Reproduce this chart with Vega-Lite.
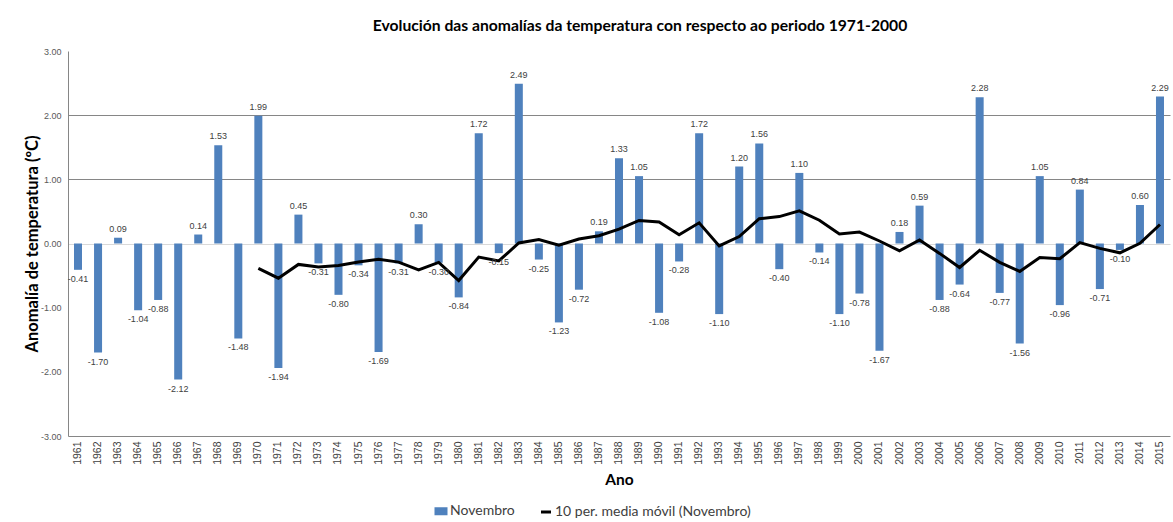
{
  "$schema": "https://vega.github.io/schema/vega-lite/v6.json",
  "autosize": "none",
  "width": 1102,
  "height": 385,
  "padding": {"left": 68, "top": 51, "right": 3, "bottom": 86},
  "background": "white",
  "config": {"font": "Lato", "view": {"stroke": null},
    "locale": {"number": {"decimal": ".", "thousands": ",", "grouping": [3], "currency": ["$", ""], "minus": "-"}}},
  "title": {"text": "Evolución das anomalías da temperatura con respecto ao periodo 1971-2000", "fontSize": 15.7, "font": "Lato", "fontWeight": "bold", "color": "#000000", "offset": 12, "dx": 21},
  "data": {"values": [
    {"year": "1961", "v": -0.41, "ma": null},
    {"year": "1962", "v": -1.70, "ma": null},
    {"year": "1963", "v": 0.09, "ma": null},
    {"year": "1964", "v": -1.04, "ma": null},
    {"year": "1965", "v": -0.88, "ma": null},
    {"year": "1966", "v": -2.12, "ma": null},
    {"year": "1967", "v": 0.14, "ma": null},
    {"year": "1968", "v": 1.53, "ma": null},
    {"year": "1969", "v": -1.48, "ma": null},
    {"year": "1970", "v": 1.99, "ma": -0.388},
    {"year": "1971", "v": -1.94, "ma": -0.541},
    {"year": "1972", "v": 0.45, "ma": -0.326},
    {"year": "1973", "v": -0.31, "ma": -0.366},
    {"year": "1974", "v": -0.80, "ma": -0.342},
    {"year": "1975", "v": -0.34, "ma": -0.288},
    {"year": "1976", "v": -1.69, "ma": -0.245},
    {"year": "1977", "v": -0.31, "ma": -0.290},
    {"year": "1978", "v": 0.30, "ma": -0.413},
    {"year": "1979", "v": -0.30, "ma": -0.295},
    {"year": "1980", "v": -0.84, "ma": -0.578},
    {"year": "1981", "v": 1.72, "ma": -0.212},
    {"year": "1982", "v": -0.15, "ma": -0.272},
    {"year": "1983", "v": 2.49, "ma": 0.008},
    {"year": "1984", "v": -0.25, "ma": 0.063},
    {"year": "1985", "v": -1.23, "ma": -0.026},
    {"year": "1986", "v": -0.72, "ma": 0.071},
    {"year": "1987", "v": 0.19, "ma": 0.121},
    {"year": "1988", "v": 1.33, "ma": 0.224},
    {"year": "1989", "v": 1.05, "ma": 0.359},
    {"year": "1990", "v": -1.08, "ma": 0.335},
    {"year": "1991", "v": -0.28, "ma": 0.135},
    {"year": "1992", "v": 1.72, "ma": 0.322},
    {"year": "1993", "v": -1.10, "ma": -0.037},
    {"year": "1994", "v": 1.20, "ma": 0.108},
    {"year": "1995", "v": 1.56, "ma": 0.387},
    {"year": "1996", "v": -0.40, "ma": 0.419},
    {"year": "1997", "v": 1.10, "ma": 0.510},
    {"year": "1998", "v": -0.14, "ma": 0.363},
    {"year": "1999", "v": -1.10, "ma": 0.148},
    {"year": "2000", "v": -0.78, "ma": 0.178},
    {"year": "2001", "v": -1.67, "ma": 0.039},
    {"year": "2002", "v": 0.18, "ma": -0.115},
    {"year": "2003", "v": 0.59, "ma": 0.054},
    {"year": "2004", "v": -0.88, "ma": -0.154},
    {"year": "2005", "v": -0.64, "ma": -0.374},
    {"year": "2006", "v": 2.28, "ma": -0.106},
    {"year": "2007", "v": -0.77, "ma": -0.293},
    {"year": "2008", "v": -1.56, "ma": -0.435},
    {"year": "2009", "v": 1.05, "ma": -0.220},
    {"year": "2010", "v": -0.96, "ma": -0.238},
    {"year": "2011", "v": 0.84, "ma": 0.013},
    {"year": "2012", "v": -0.71, "ma": -0.076},
    {"year": "2013", "v": -0.10, "ma": -0.145},
    {"year": "2014", "v": 0.60, "ma": 0.003},
    {"year": "2015", "v": 2.29, "ma": 0.296}
  ]},
  "encoding": {
    "x": {"field": "year", "type": "ordinal", "scale": {"paddingInner": 0.6, "paddingOuter": 0.3},
      "axis": {"labelAngle": -90, "labelFontSize": 10.5, "labelColor": "#404040", "labelPadding": 5, "labelFont": "Liberation Sans",
        "domainColor": "#868686", "ticks": false, "title": "Ano", "titleFontSize": 15.5, "titleFontWeight": "bold", "titleColor": "#000000", "titlePadding": 8}}
  },
  "layer": [
    {
      "mark": {"type": "bar", "color": "#4F81BD"},
      "encoding": {
        "y": {"field": "v", "type": "quantitative", "scale": {"domain": [-3, 3], "nice": false},
          "axis": {"values": [-3, -2, -1, 0, 1, 2, 3], "format": ".2f", "labelFontSize": 9, "labelFont": "Liberation Sans", "labelColor": "#595959", "labelPadding": 7, "ticks": false,
            "domainColor": "#868686",
            "grid": true,
            "gridColor": {"condition": {"test": "datum.value === 0", "value": "#d9d9d9"}, "value": "#868686"},
            "gridOpacity": {"condition": {"test": "datum.value < 0 || datum.value > 2", "value": 0}, "value": 1},
            "title": "Anomalía de temperatura (ºC)", "titleFontSize": 16.5, "titleFontWeight": "bold", "titleColor": "#000000", "titlePadding": 0}},
        "color": {"datum": "Novembro", "type": "nominal",
          "scale": {"domain": ["Novembro", "10 per. media móvil (Novembro)"], "range": ["#4F81BD", "#000000"]},
          "legend": {"title": null, "orient": "none", "legendX": 366, "legendY": 453, "direction": "horizontal",
            "labelFontSize": 14, "labelColor": "#404040", "labelOffset": 2, "labelLimit": 0, "columnPadding": 20, "symbolSize": 100,
            "encode": {"symbols": {"update": {
              "shape": {"signal": "datum.value === 'Novembro' ? 'M-1,-0.5H1V0.5H-1Z' : 'M-1,0H1'"},
              "fill": {"signal": "datum.value === 'Novembro' ? '#4F81BD' : 'transparent'"},
              "stroke": {"signal": "datum.value === 'Novembro' ? 'transparent' : '#000000'"},
              "strokeWidth": {"value": 3}}}}}}
      }
    },
    {
      "transform": [{"filter": "datum.ma != null"}],
      "mark": {"type": "line", "strokeWidth": 3, "color": "#000000"},
      "encoding": {
        "y": {"field": "ma", "type": "quantitative"},
        "color": {"datum": "10 per. media móvil (Novembro)", "type": "nominal"}
      }
    },
    {
      "transform": [{"filter": "datum.v >= 0"}],
      "mark": {"type": "text", "baseline": "bottom", "dy": -4, "fontSize": 9, "font": "Liberation Sans", "color": "#404040"},
      "encoding": {
        "y": {"field": "v", "type": "quantitative"},
        "text": {"field": "v", "type": "quantitative", "format": ".2f"}
      }
    },
    {
      "transform": [{"filter": "datum.v < 0"}],
      "mark": {"type": "text", "baseline": "top", "dy": 5, "fontSize": 9, "font": "Liberation Sans", "color": "#404040"},
      "encoding": {
        "y": {"field": "v", "type": "quantitative"},
        "text": {"field": "v", "type": "quantitative", "format": ".2f"}
      }
    }
  ]
}
